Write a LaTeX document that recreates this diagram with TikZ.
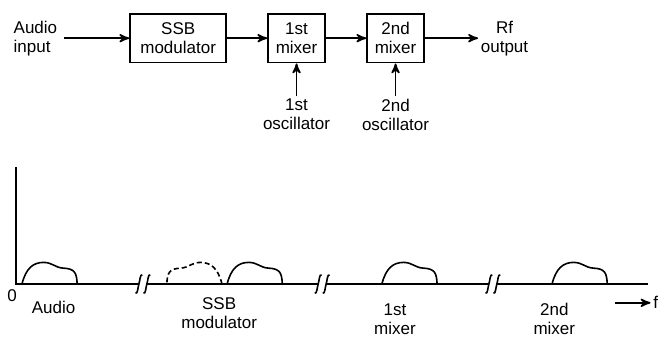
\documentclass[tikz,border=0pt]{standalone}
\usepackage{fontspec}
\setmainfont{Liberation Sans}
\usepackage{tikz}
\usetikzlibrary{arrows, positioning}

\begin{document}
\begin{tikzpicture}[>=stealth', line width=0.8pt,
    font=\fontsize{8.5}{9.5}\selectfont,
    blk/.style={rectangle,draw,minimum height=0.86cm,inner sep=1pt,align=center},
    lbl/.style={inner sep=1pt,align=center},
    band/.pic={
        \draw (0,0) .. controls (0.07,0.28) and (0.20,0.38) .. (0.38,0.38)
            .. controls (0.53,0.38) and (0.58,0.29) .. (0.72,0.28)
            .. controls (0.93,0.27) and (0.96,0.20) .. (0.97,0);
    },
    axbreak/.pic={
        \fill[white] (-0.07,-0.03) rectangle (0.07,0.03);
        \foreach \d in {-0.07,0.07}
            \draw (\d-0.06,-0.16) .. controls (\d-0.02,-0.18) and (\d-0.02,-0.06) .. (\d,0)
                .. controls (\d+0.02,0.06) and (\d+0.02,0.18) .. (\d+0.06,0.16);
    }]
    \useasboundingbox (-0.281,-0.914) rectangle (11.317,4.991);

    % Schema a blocchi
    \node[lbl,anchor=west,align=left] (ain) at (-0.09,4.32) {Audio\\input};
    \node[blk,minimum width=1.69cm] (ssb) at (2.85,4.32) {SSB\\modulator};
    \node[blk,minimum width=1.0cm] (mix1) at (4.93,4.32) {1st\\mixer};
    \node[blk,minimum width=1.0cm] (mix2) at (6.67,4.32) {2nd\\mixer};
    \node[lbl,anchor=west] (rfo) at (8.12,4.32) {Rf\\output};
    \node[lbl,anchor=north] (osc1) at (4.93,3.30) {1st\\oscillator};
    \node[lbl,anchor=north] (osc2) at (6.67,3.30) {2nd\\oscillator};

    % Frecce
    \draw[->,shorten <=2pt] (ain) -- (ssb);
    \draw[->] (ssb) -- (mix1);
    \draw[->] (mix1) -- (mix2);
    \draw[->] (mix2) -- (rfo);
    \draw[->] (osc1) -- (mix1);
    \draw[->] (osc2) -- (mix2);

    % Spettro
    \coordinate (orig) at (0,0);
    \draw (0,2.06) -- (orig) -- (11.1,0);
    \pic at (2.23,0) {axbreak};
    \pic at (5.38,0) {axbreak};
    \pic at (8.38,0) {axbreak};
    \pic at (0.105,0) {band};
    \pic[dashed,dash pattern=on 2.5pt off 1.5pt,xscale=-1] at (3.62,0) {band};
    \pic at (3.71,0) {band};
    \pic at (6.43,0) {band};
    \pic at (9.42,0) {band};

    % Etichette
    \node[lbl] (lorig) at (-0.07,-0.21) {0};
    \node[lbl] (laud) at (0.66,-0.41) {Audio};
    \node[lbl] (lssb) at (3.57,-0.51) {SSB\\modulator};
    \node[lbl] (lmix1) at (6.66,-0.61) {1st\\mixer};
    \node[lbl] (lmix2) at (9.46,-0.61) {2nd\\mixer};
    \coordinate (fstart) at (10.53,-0.33);
    \node[lbl,anchor=west] (lf) at (11.15,-0.33) {f};
    \draw[->] (fstart) -- (lf);
\end{tikzpicture}
\end{document}
